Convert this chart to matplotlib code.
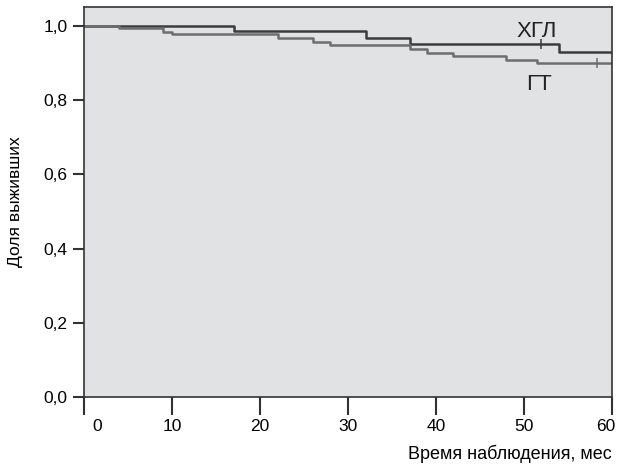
import matplotlib.pyplot as plt
import matplotlib.transforms as mtransforms

plt.rcParams['font.family'] = ['Liberation Sans', 'DejaVu Sans']

# Kaplan-Meier curves
hgl_time = [0, 17, 32, 37, 54, 60]
hgl_surv = [1.0, 0.985, 0.967, 0.951, 0.929, 0.929]
hgl_cens_t = [52]
hgl_cens_s = [0.951]

gt_time = [0, 4, 9, 10, 22, 26, 28, 37, 39, 42, 48, 51.5, 60]
gt_surv = [1.0, 0.993, 0.983, 0.977, 0.967, 0.956, 0.947, 0.937, 0.925, 0.917, 0.908, 0.899, 0.899]
gt_cens_t = [58.3]
gt_cens_s = [0.899]

x_ticks = [0, 10, 20, 30, 40, 50, 60]
y_ticks = [0.0, 0.2, 0.4, 0.6, 0.8, 1.0]
y_tick_labels = ['0,0', '0,2', '0,4', '0,6', '0,8', '1,0']

fig = plt.figure(figsize=(6.18, 4.70), dpi=100)
ax = fig.add_axes([0.136, 0.155, 0.854, 0.830])
ax.set_facecolor('#e1e2e4')

ax.step(hgl_time, hgl_surv, where='post', color='#3c3c3c', lw=1.8)
ax.step(gt_time, gt_surv, where='post', color='#6e6e6e', lw=1.8)
ax.plot(hgl_cens_t, hgl_cens_s, ls='none', marker='|', ms=7, mew=1.1, color='#3c3c3c')
ax.plot(gt_cens_t, gt_cens_s, ls='none', marker='|', ms=7, mew=1.1, color='#6e6e6e')

ax.text(51.5, 0.983, 'ХГЛ', fontsize=16, ha='center', va='center', color='#222222')
ax.text(51.7, 0.842, 'ГТ', fontsize=16, ha='center', va='center', color='#222222')

ax.set_xlim(0, 60)
ax.set_ylim(0, 1.05)
ax.set_xticks(x_ticks)
ax.set_yticks(y_ticks)
ax.set_yticklabels(y_tick_labels)

for s in ax.spines.values():
    s.set_color('#333333')
    s.set_linewidth(1.2)

ax.tick_params(axis='x', length=13, width=1.5, color='#333333', labelsize=12.5, pad=3)
ax.tick_params(axis='y', length=8, width=1.5, color='#333333', labelsize=12.5, pad=4)

# nudge the end labels like in the source chart
xlabels = ax.get_xticklabels()
xlabels[0].set_transform(xlabels[0].get_transform() +
                         mtransforms.ScaledTranslation(13 / 100, 0, fig.dpi_scale_trans))
xlabels[-1].set_transform(xlabels[-1].get_transform() +
                          mtransforms.ScaledTranslation(-6 / 100, 0, fig.dpi_scale_trans))

ax.set_ylabel('Доля выживших', fontsize=12.5)
ax.yaxis.set_label_coords(-0.115, 0.5)
fig.text(0.99, 0.015, 'Время наблюдения, мес', fontsize=13, ha='right', va='bottom')

fig.savefig('out.png', dpi=100)
